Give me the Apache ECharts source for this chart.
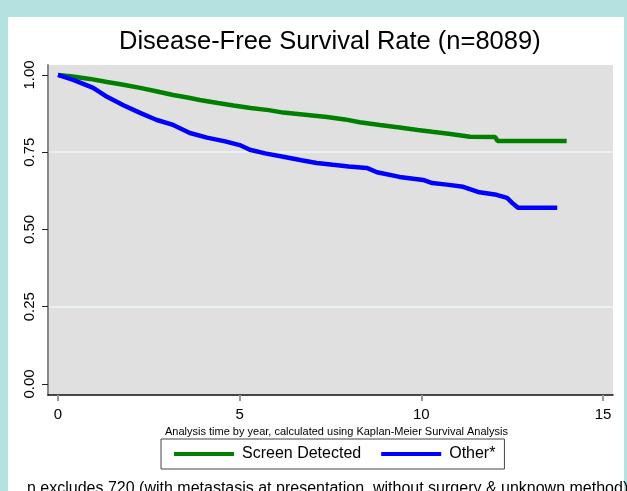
<!DOCTYPE html>
<html>
<head>
<meta charset="utf-8">
<title>Disease-Free Survival Rate</title>
<script src="https://cdn.jsdelivr.net/npm/echarts@6/dist/echarts.min.js"></script>
<style>
    html, body { margin: 0; padding: 0; background: #b4e2e0; }
    #main { width: 627px; height: 491px; }
</style>
</head>
<body>
<div id="main"></div>
<script>
// KM curves (years, survival rate)
var seriesNames = ['Screen Detected', 'Other*'];
var screenYears = [0, 0.4, 0.88, 1.35, 1.8, 2.26, 2.7, 3.17, 3.6, 3.9, 4.4, 4.83, 5.3, 5.8, 6.2, 6.8, 7.4, 7.9, 8.3, 8.86, 9.4, 9.9, 10.3, 10.8, 11.34, 12.03, 12.1, 14.0];
var screenRate = [1.0, 0.995, 0.987, 0.977, 0.968, 0.958, 0.947, 0.935, 0.926, 0.919, 0.909, 0.901, 0.893, 0.886, 0.878, 0.871, 0.864, 0.856, 0.847, 0.838, 0.830, 0.822, 0.816, 0.809, 0.800, 0.799, 0.786, 0.786];
var otherYears = [0, 0.42, 0.97, 1.35, 1.8, 2.26, 2.72, 3.17, 3.63, 4.1, 4.6, 5.0, 5.28, 5.7, 6.2, 6.7, 7.12, 7.57, 8.0, 8.5, 8.78, 9.4, 10.05, 10.3, 10.7, 11.15, 11.6, 12.07, 12.36, 12.5, 12.66, 13.74];
var otherRate = [1.0, 0.984, 0.958, 0.929, 0.902, 0.877, 0.854, 0.838, 0.812, 0.797, 0.785, 0.773, 0.758, 0.746, 0.735, 0.724, 0.715, 0.709, 0.704, 0.699, 0.685, 0.670, 0.660, 0.650, 0.645, 0.638, 0.620, 0.612, 0.602, 0.586, 0.570, 0.570];
var xTicks = [0, 5, 10, 15];
var yTicks = [0, 0.25, 0.5, 0.75, 1];

function pairs(xs, ys) {
    var out = [];
    xs.forEach(function (x, i) {
        out.push([x, ys[i]]);
    });
    return out;
}

var font = 'Liberation Sans, Arial, sans-serif';
var myChart = echarts.init(document.getElementById('main'));

var option = {
    animation: false,
    backgroundColor: '#b4e2e0',
    textStyle: { fontFamily: font },
    title: {
        text: 'Disease-Free Survival Rate (n=8089)',
        left: 114,
        top: 24,
        textStyle: { fontSize: 25.5, fontWeight: 'normal', color: '#000', fontFamily: font }
    },
    graphic: [
        { type: 'rect', z: -100, shape: { x: 8, y: 17, width: 616, height: 480 }, style: { fill: '#fff' } },
        {
            type: 'text', x: 27, y: 481,
            style: {
                text: 'n excludes 720 (with metastasis at presentation, without surgery & unknown method)',
                font: '16px ' + font, fill: '#000', verticalAlign: 'top'
            }
        }
    ],
    legend: {
        data: seriesNames,
        left: 161,
        top: 439,
        icon: 'rect',
        itemWidth: 60,
        itemHeight: 4,
        itemGap: 20,
        padding: [6, 9, 6, 13],
        borderColor: '#444',
        borderWidth: 1,
        textStyle: { fontSize: 16, color: '#000', lineHeight: 18, padding: [0, 0, 0, 3] }
    },
    grid: {
        left: 48, right: 14, top: 65, bottom: 96,
        show: true, backgroundColor: '#e0e0e0', borderWidth: 0
    },
    xAxis: {
        type: 'value',
        min: -0.275,
        max: 15.275,
        name: 'Analysis time by year, calculated using Kaplan-Meier Survival Analysis',
        nameLocation: 'middle',
        nameGap: 26,
        nameTextStyle: { fontSize: 11, color: '#000', padding: [0, 0, 0, 12] },
        axisLine: { onZero: false, lineStyle: { color: '#111', width: 1.5 } },
        axisTick: { customValues: xTicks, length: 6, lineStyle: { color: '#999', width: 2 } },
        axisLabel: { customValues: xTicks, fontSize: 15, color: '#000', margin: 12 },
        splitLine: { show: false }
    },
    yAxis: {
        type: 'value',
        min: -0.0356,
        max: 1.032,
        axisLine: { show: true, onZero: false, lineStyle: { color: '#888', width: 2 } },
        axisTick: { show: true, customValues: yTicks, length: 6, lineStyle: { color: '#222', width: 1 } },
        axisLabel: {
            customValues: yTicks, rotate: 90, fontSize: 15, color: '#000', margin: 11,
            formatter: function (v) { return v.toFixed(2); }
        },
        splitLine: { show: true, lineStyle: { color: ['#e0e0e0', '#eaf1f3'], width: 2 } }
    },
    series: [
        {
            name: seriesNames[0],
            type: 'line',
            symbol: 'none',
            data: pairs(screenYears, screenRate),
            lineStyle: { color: '#008000', width: 4.5 },
            itemStyle: { color: '#008000' }
        },
        {
            name: seriesNames[1],
            type: 'line',
            symbol: 'none',
            data: pairs(otherYears, otherRate),
            lineStyle: { color: '#0000ff', width: 4.5 },
            itemStyle: { color: '#0000ff' }
        }
    ]
};
myChart.setOption(option);
</script>
</body>
</html>
